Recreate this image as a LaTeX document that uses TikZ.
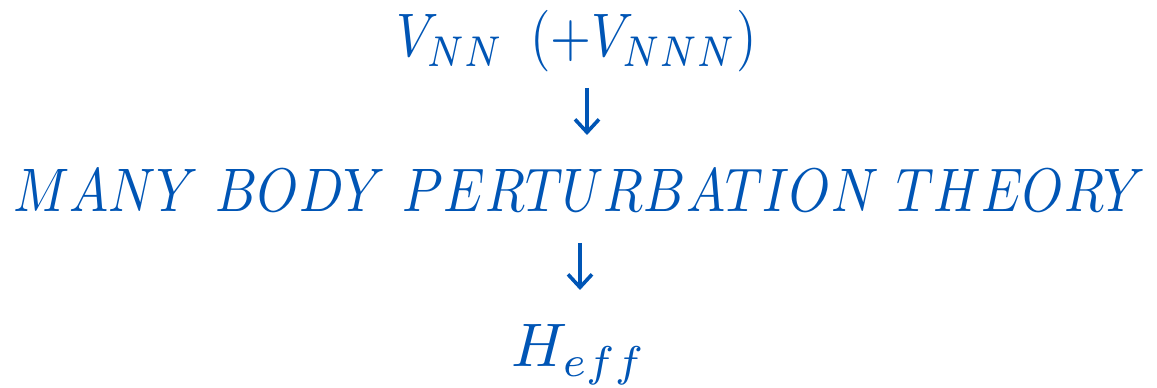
\documentclass[tikz,border=0pt]{standalone}
\usetikzlibrary{arrows.meta}
\definecolor{txtblue}{HTML}{0055B5}
\tikzset{
  lbl/.style={inner sep=0pt, anchor=base, text=txtblue, scale=6.15, transform shape},
  arr/.style={draw=txtblue, line width=3.6pt, -{Straight Barb[length=13pt,width=24pt]}}
}
\begin{document}
\begin{tikzpicture}[x=1pt,y=1pt]
\useasboundingbox (0,0) rectangle (1157,388);
\node[lbl, xscale=0.855] (top) at (576.5,331) {$V_{NN}\ \,(+V_{NNN})$};
\node[lbl, xscale=0.848] (mid) at (580,176) {$MANY\ BODY\ PERTURBATION\ THEORY$};
\node[lbl] (bot) at (579,21) {$H_{eff}$};
\coordinate (a1s) at (587,300);
\coordinate (a1e) at (587,253);
\coordinate (a2s) at (580,145);
\coordinate (a2e) at (580,98);
\draw[arr] (a1s) -- (a1e);
\draw[arr] (a2s) -- (a2e);
\end{tikzpicture}
\end{document}
